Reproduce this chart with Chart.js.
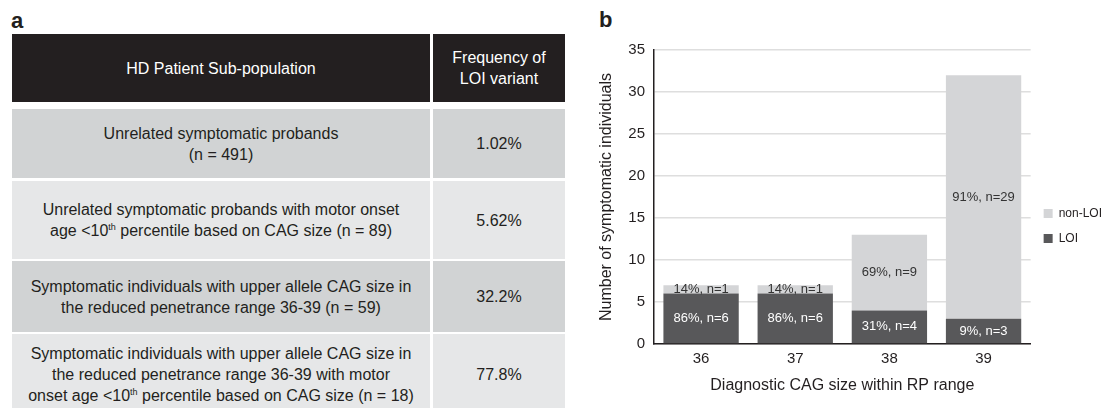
<!DOCTYPE html>
<html>
<head>
<meta charset="utf-8">
<script src="https://cdn.jsdelivr.net/npm/chart.js@4/dist/chart.umd.min.js"></script>
<style>
    html, body { margin: 0; padding: 0; background: #fff; }
    body { width: 1109px; height: 408px; position: relative; overflow: hidden; font-family: "Liberation Sans", Arial, sans-serif; color: #231f20; }
    .panel { position: absolute; font-weight: bold; font-size: 22px; line-height: 22px; }
    .row { position: absolute; left: 12px; width: 553px; }
    .cell { position: absolute; top: 0; bottom: 0; display: flex; align-items: center; justify-content: center; text-align: center; font-size: 16px; line-height: 21px; }
    .c1 { left: 0; width: 418px; }
    .c2 { left: 421px; width: 132px; }
    .head .cell { background: #231f20; color: #fff; }
    .dark .cell { background: #d1d3d4; }
    .light .cell { background: #e6e7e8; }
    sup { font-size: 9px; line-height: 0; vertical-align: 6px; }
    #chart-wrap { position: absolute; left: 590px; top: 0; width: 522px; height: 408px; }
</style>
</head>
<body>
<div class="panel" style="left:11px;top:10px;">a</div>
<div class="panel" style="left:599px;top:9px;">b</div>

<div class="row head" style="top:34px;height:68px;">
    <div class="cell c1"><span>HD Patient Sub-population</span></div>
    <div class="cell c2"><span>Frequency of<br>LOI variant</span></div>
</div>
<div class="row dark" style="top:109px;height:69px;">
    <div class="cell c1"><span>Unrelated symptomatic probands<br>(n = 491)</span></div>
    <div class="cell c2"><span>1.02%</span></div>
</div>
<div class="row light" style="top:181px;height:78px;">
    <div class="cell c1"><span>Unrelated symptomatic probands with motor onset<br>age &lt;10<sup>th</sup> percentile based on CAG size (n = 89)</span></div>
    <div class="cell c2"><span>5.62%</span></div>
</div>
<div class="row dark" style="top:261px;height:71px;">
    <div class="cell c1"><span>Symptomatic individuals with upper allele CAG size in<br>the reduced penetrance range 36-39 (n = 59)</span></div>
    <div class="cell c2"><span>32.2%</span></div>
</div>
<div class="row light" style="top:334px;height:81px;">
    <div class="cell c1"><span>Symptomatic individuals with upper allele CAG size in<br>the reduced penetrance range 36-39 with motor<br>onset age &lt;10<sup>th</sup> percentile based on CAG size (n = 18)</span></div>
    <div class="cell c2"><span>77.8%</span></div>
</div>

<div id="chart-wrap"><canvas id="cagChart"></canvas></div>

<script>
// Data
const cagSizes = ['36', '37', '38', '39'];
const loiCounts = [6, 6, 4, 3];
const nonLoiCounts = [1, 1, 9, 29];
const loiPercent = [86, 86, 31, 9];
const nonLoiPercent = [14, 14, 69, 91];
const yTicks = [0, 5, 10, 15, 20, 25, 30, 35];

const darkGray = '#58585a';
const lightGray = '#d4d5d7';
const ink = '#231f20';
const fontFamily = '"Liberation Sans", Arial, sans-serif';

// writes "86%, n=6" in the middle of each bar segment
const segmentLabels = {
    id: 'segmentLabels',
    afterDatasetsDraw(chart) {
        const ctx = chart.ctx;
        ctx.save();
        ctx.font = '13px ' + fontFamily;
        ctx.textAlign = 'center';
        ctx.textBaseline = 'middle';
        chart.data.datasets.forEach((ds, di) => {
            const meta = chart.getDatasetMeta(di);
            meta.data.forEach((bar, i) => {
                const text = ds.pct[i] + '%, n=' + ds.data[i];
                ctx.fillStyle = ds.labelColor;
                ctx.fillText(text, bar.x, (bar.y + bar.base) / 2);
            });
        });
        ctx.restore();
    }
};

new Chart(document.getElementById('cagChart'), {
    type: 'bar',
    data: {
        labels: cagSizes,
        datasets: [
            { label: 'LOI', data: loiCounts, pct: loiPercent, backgroundColor: darkGray, labelColor: '#ffffff' },
            { label: 'non-LOI', data: nonLoiCounts, pct: nonLoiPercent, backgroundColor: lightGray, labelColor: '#333333' }
        ]
    },
    options: {
        responsive: true,
        maintainAspectRatio: false,
        animation: false,
        layout: { padding: { top: 50, bottom: 6, left: 0, right: 0 } },
        datasets: { bar: { barPercentage: 0.8, categoryPercentage: 1.0 } },
        plugins: {
            legend: {
                position: 'right',
                reverse: true,
                labels: {
                    boxWidth: 9,
                    boxHeight: 9,
                    padding: 13,
                    color: ink,
                    font: { size: 12, family: fontFamily }
                }
            },
            tooltip: { enabled: false }
        },
        scales: {
            x: {
                stacked: true,
                grid: { display: false, drawTicks: false },
                border: { display: true, color: ink, width: 1.5 },
                ticks: { color: ink, padding: 6, font: { size: 15, family: fontFamily } },
                title: {
                    display: true,
                    text: 'Diagnostic CAG size within RP range',
                    color: ink,
                    padding: { top: 7, bottom: 7 },
                    font: { size: 16, family: fontFamily }
                },
                afterFit(scale) { scale.height = 58; }
            },
            y: {
                stacked: true,
                min: yTicks[0],
                max: yTicks[yTicks.length - 1],
                afterBuildTicks(scale) { scale.ticks = yTicks.map(v => ({ value: v })); },
                grid: { color: '#dedede', lineWidth: 1.5, drawTicks: false },
                border: { display: true, color: ink, width: 1.5 },
                ticks: { color: ink, padding: 9, font: { size: 15, family: fontFamily } },
                title: {
                    display: true,
                    text: 'Number of symptomatic individuals',
                    color: ink,
                    padding: { top: 7, bottom: 0 },
                    font: { size: 16, family: fontFamily }
                },
                afterFit(scale) { scale.width = 64; }
            }
        }
    },
    plugins: [segmentLabels]
});
</script>
</body>
</html>
